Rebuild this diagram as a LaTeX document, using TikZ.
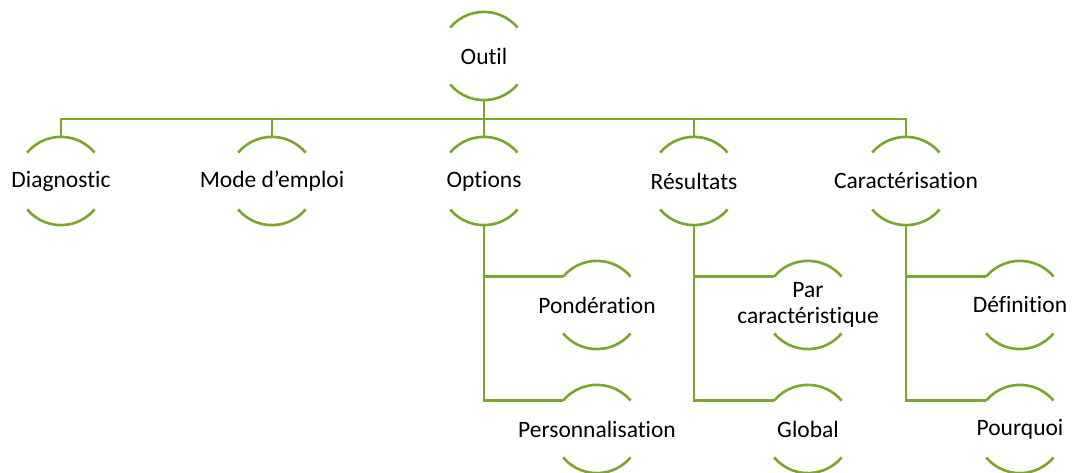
\documentclass[tikz,border=0pt]{standalone}
\usepackage{fontspec}
\setmainfont{Carlito}[Ligatures={ResetAll,NoCommon}]
\definecolor{leaf}{RGB}{122,165,46}
\begin{document}
\begin{tikzpicture}[x=1pt,y=1pt,
  ring/.style={circle,minimum size=88pt,inner sep=0pt,draw=none,
    label={[font=\fontsize{23.5}{26}\selectfont,align=center,text=black]center:#1}},
  link/.style={draw=leaf,line width=2.6pt},
  rim/.style={draw=leaf,line width=2.6pt,line cap=butt}]
\useasboundingbox (0,0) rectangle (1072,473);

% top node
\node[ring=Outil] (outil) at (484,417) {};
% second level
\node[ring=Diagnostic]      (diag) at (61,292)  {};
\node[ring={Mode d\char"0027 emploi}] (mode) at (272,292) {};
\node[ring=Options]         (opt)  at (484,292) {};
\node[ring=Résultats]       (res)  at (694,292) {};
\node[ring=Caractérisation] (car)  at (906,292) {};
% third level
\node[ring=Pondération]      (pond) at (597,168)  {};
\node[ring=Personnalisation] (pers) at (597,44)   {};
\node[ring={Par\\caractéristique}] (par) at (808,168) {};
\node[ring=Global]           (glob) at (808,44)   {};
\node[ring=Définition]       (def)  at (1020,168) {};
\node[ring=Pourquoi]         (pour) at (1020,44)  {};

% rims: an arc above and below each label
\foreach \n in {outil,diag,mode,opt,res,car,pond,pers,par,glob,def,pour}{
  \draw[rim] (\n.140) arc[start angle=140,end angle=40,radius=44pt];
  \draw[rim] (\n.220) arc[start angle=220,end angle=320,radius=44pt];
}

% connectors
\foreach \c in {diag,mode,opt,res,car}
  \draw[link] (outil.south) -- ++(0,-19) -| (\c.north);
\foreach \p/\a/\b in {opt/pond/pers,res/par/glob,car/def/pour}{
  \draw[link] (\p.south) |- (\a.140);
  \draw[link] (\p.south) |- (\b.140);
}
\end{tikzpicture}
\end{document}
